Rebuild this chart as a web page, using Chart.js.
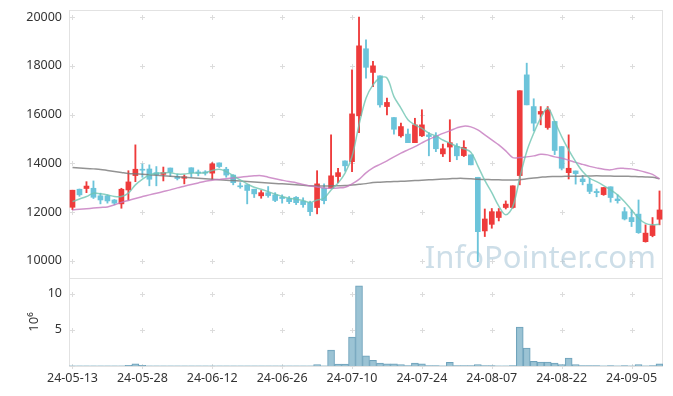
<!DOCTYPE html>
<html>
<head>
<meta charset="utf-8">
<script src="https://cdn.jsdelivr.net/npm/chart.js@4.4.1/dist/chart.umd.min.js"></script>
<style>
  html, body { margin: 0; padding: 0; background: #fff; }
</style>
</head>
<body>
<canvas id="priceChart" width="673" height="396"></canvas>
<script>
var dates = ['24-05-13','24-05-14','24-05-16','24-05-17','24-05-20','24-05-21','24-05-22','24-05-23','24-05-24','24-05-27','24-05-28','24-05-29','24-05-30','24-05-31',
  '24-06-03','24-06-04','24-06-05','24-06-07','24-06-10','24-06-11','24-06-12','24-06-13','24-06-14','24-06-17','24-06-18','24-06-19','24-06-20','24-06-21','24-06-24','24-06-25','24-06-26','24-06-27','24-06-28',
  '24-07-01','24-07-02','24-07-03','24-07-04','24-07-05','24-07-08','24-07-09','24-07-10','24-07-11','24-07-12','24-07-15','24-07-16','24-07-17','24-07-18','24-07-19','24-07-22','24-07-23','24-07-24','24-07-25','24-07-26','24-07-29','24-07-30','24-07-31',
  '24-08-01','24-08-02','24-08-05','24-08-06','24-08-07','24-08-08','24-08-09','24-08-12','24-08-13','24-08-14','24-08-16','24-08-19','24-08-20','24-08-21','24-08-22','24-08-23','24-08-26','24-08-27','24-08-28','24-08-29','24-08-30',
  '24-09-02','24-09-03','24-09-04','24-09-05','24-09-06','24-09-09','24-09-10','24-09-11'];

var opens = [12200,12940,12970,12980,12670,12670,12500,12340,12910,13500,13760,13770,13620,13550,13810,13450,13390,13820,13650,13650,
  13600,14020,13760,13520,13080,13120,12940,12670,12800,12710,12610,12560,12610,12450,12390,12190,12980,12980,13460,14100,
  14070,15950,18700,17730,17590,16330,15880,15130,15200,14850,15130,15170,15130,14390,14670,14700,14320,14350,13430,11230,
  11500,11780,12190,12190,13500,17630,16330,16020,15470,15720,14690,13620,13690,13360,13150,12850,12720,13040,12540,12020,
  11780,11920,10790,11040,11710];
var highs = [12900,12950,13250,13280,12780,12710,12520,12980,13700,14760,13980,13940,13870,13850,13810,13560,13530,13820,13730,13700,
  14030,14020,13840,13540,13210,13120,12940,12890,13050,12800,12710,12640,12640,12590,12450,13700,13160,15170,13800,14100,
  17840,20000,19070,18180,17590,16680,15880,15650,15410,15850,16200,15260,15260,14790,15790,14810,14930,14350,13430,12130,
  12150,12150,12460,13080,16980,18110,16650,16330,16330,15720,14690,15170,13690,13500,13390,12950,13010,13040,12710,12190,
  12090,12500,11480,11780,12870];
var lows = [12100,12650,12800,12560,12340,12370,12300,12160,12500,13250,13430,13080,13080,13280,13460,13320,13160,13450,13490,13520,
  13350,13830,13430,13120,12980,12340,12600,12570,12610,12430,12370,12350,12310,12200,11860,11930,12340,12980,13210,13680,
  13660,15260,17490,17150,16310,15990,15200,15070,14850,14850,15100,14310,14480,14280,14070,14150,14280,13940,9970,11000,
  11340,11640,12130,12160,13120,16400,15330,15580,15400,14360,13730,13360,13150,13120,12760,12630,12690,12410,12370,11680,
  11410,11130,10770,10990,11480];
var closes = [12900,12710,13070,12610,12500,12460,12370,12940,13240,13760,13720,13350,13540,13620,13640,13380,13450,13620,13600,13600,
  13980,13870,13520,13210,13040,12890,12750,12800,12680,12480,12560,12430,12390,12310,12020,13160,12470,13490,13620,13900,
  16030,18820,17940,18000,16400,16500,15400,15510,14850,15580,15580,15100,14600,14600,14850,14310,14660,13940,11200,11720,
  12020,12020,12330,13080,16980,16400,15650,16130,16190,14530,13800,13800,13580,13250,12850,12800,13010,12600,12470,11720,
  11610,11160,11140,11450,12090];

// moving averages
var ma5 = [12433,12540,12640,12778,12750,12708,12640,12640,12778,13120,13350,13530,13600,13610,13620,13560,13560,13600,13600,13620,
  13705,13760,13665,13490,13320,13160,13020,12940,12843,12735,12640,12570,12530,12475,12390,12500,12570,12913,13190,13600,
  14280,15580,16675,17220,17500,17500,16740,16270,15790,15580,15440,15240,15130,14960,14830,14700,14600,14460,13900,13300,
  12800,12250,11890,12230,13400,14490,15240,15860,16270,15720,15100,14550,14070,13665,13390,13250,13090,12913,12710,12430,
  12090,11750,11540,11480,11500];
var ma20 = [12093,12118,12142,12166,12191,12216,12298,12400,12482,12564,12638,12708,12774,12843,12913,12995,13065,13135,13200,13266,
  13311,13344,13373,13405,13434,13463,13488,13496,13434,13373,13311,13254,13209,13139,13077,13036,12995,12983,12995,13024,
  13159,13344,13611,13816,13960,14103,14267,14419,14554,14690,14842,14985,15108,15231,15334,15457,15527,15498,15375,15170,
  14965,14760,14513,14238,14238,14267,14308,14370,14349,14267,14214,14131,14041,13959,13877,13816,13762,13734,13795,13795,
  13775,13713,13640,13549,13364];
var ma60 = [13836,13815,13795,13775,13754,13713,13672,13630,13590,13570,13550,13530,13510,13490,13470,13450,13430,13410,13390,13370,
  13350,13330,13310,13295,13280,13260,13240,13220,13200,13180,13160,13140,13120,13100,13080,13075,13075,13080,13085,13090,
  13115,13140,13170,13215,13230,13245,13255,13265,13280,13295,13310,13325,13340,13355,13370,13385,13385,13370,13350,13340,
  13330,13325,13323,13323,13330,13370,13400,13430,13455,13460,13465,13470,13475,13480,13485,13488,13485,13480,13475,13470,
  13465,13455,13445,13430,13370];

// volume in millions of shares
var volumes = [0.02,0.02,0.02,0.02,0.02,0.02,0.02,0.02,0.08,0.3,0.08,0.02,0.02,0.02,0.02,0.02,0.02,0.02,0.02,0.02,
  0.02,0.02,0.02,0.02,0.02,0.02,0.02,0.02,0.02,0.02,0.02,0.02,0.02,0.02,0.02,0.2,0.03,2.2,0.25,0.25,
  4.0,11.1,1.4,0.8,0.4,0.3,0.3,0.2,0.05,0.4,0.3,0.05,0.05,0.02,0.5,0.05,0.05,0.05,0.2,0.05,
  0.05,0.02,0.02,0.05,5.4,2.5,0.65,0.55,0.55,0.4,0.2,1.1,0.2,0.07,0.07,0.07,0.02,0.07,0.02,0.07,
  0.02,0.2,0.02,0.07,0.3];

var priceTicks = [10000, 12000, 14000, 16000, 18000, 20000];
var volumeTicks = [0, 5, 10];

var upColor = '#ee3b3b';
var downColor = '#6cc4da';
var tickFont = { family: 'Noto Sans', size: 12.5 };

var candleColors = closes.map(function(c, i) { return c >= opens[i] ? upColor : downColor; });
var wicks = dates.map(function(d, i) { return [lows[i], highs[i]]; });
var bodies = dates.map(function(d, i) { return [opens[i], closes[i]]; });

// light frame, panel separator and small "+" marks at grid crossings
var framePlugin = {
  id: 'frame',
  beforeDatasetsDraw: function(chart) {
    var ctx = chart.ctx, a = chart.chartArea;
    var xs = chart.scales.x, ys = chart.scales.y, yv = chart.scales.yv;
    ctx.save();
    ctx.strokeStyle = '#e2e2e2';
    ctx.lineWidth = 1;
    ctx.strokeRect(a.left + 0.5, a.top + 0.5, a.right - a.left - 1, a.bottom - a.top);
    ctx.beginPath();
    ctx.moveTo(a.left, Math.round(ys.bottom) + 0.5);
    ctx.lineTo(a.right, Math.round(ys.bottom) + 0.5);
    ctx.stroke();

    ctx.strokeStyle = '#dcdcdc';
    var yPix = [];
    ys.ticks.forEach(function(t) { yPix.push(ys.getPixelForValue(t.value)); });
    yv.ticks.forEach(function(t) { yPix.push(yv.getPixelForValue(t.value)); });
    for (var i = 0; i < dates.length; i += 10) {
      var px = Math.round(xs.getPixelForValue(i)) + 0.5;
      yPix.forEach(function(py) {
        py = Math.round(py) + 0.5;
        ctx.beginPath();
        ctx.moveTo(px - 2.5, py); ctx.lineTo(px + 2.5, py);
        ctx.moveTo(px, py - 2.5); ctx.lineTo(px, py + 2.5);
        ctx.stroke();
      });
    }

    ctx.font = '31px "Noto Sans"';
    ctx.fillStyle = 'rgba(172,200,216,0.6)';
    ctx.textAlign = 'right';
    ctx.textBaseline = 'alphabetic';
    ctx.fillText('InfoPointer.com', a.right - 7, ys.bottom - 10);
    ctx.restore();
  }
};

function noPad(s) {
  s.paddingTop = 0; s.paddingBottom = 0; s.paddingLeft = 0; s.paddingRight = 0;
}

var ctx = document.getElementById('priceChart').getContext('2d');
var priceChart = new Chart(ctx, {
  data: {
    labels: dates,
    datasets: [
      { type: 'line', label: 'MA5', data: ma5, yAxisID: 'y', borderColor: 'rgba(110,196,178,0.8)', borderWidth: 1.5, pointRadius: 0, tension: 0.35, order: 0 },
      { type: 'line', label: 'MA20', data: ma20, yAxisID: 'y', borderColor: 'rgba(196,120,190,0.8)', borderWidth: 1.5, pointRadius: 0, tension: 0.35, order: 0 },
      { type: 'line', label: 'MA60', data: ma60, yAxisID: 'y', borderColor: 'rgba(120,120,120,0.8)', borderWidth: 1.5, pointRadius: 0, tension: 0.35, order: 0 },
      { type: 'bar', label: 'wick', data: wicks, yAxisID: 'y', backgroundColor: candleColors, barThickness: 1.2, grouped: false, order: 2 },
      { type: 'bar', label: 'body', data: bodies, yAxisID: 'y', backgroundColor: candleColors, barThickness: 5, minBarLength: 1, grouped: false, order: 1 },
      { type: 'bar', label: 'Volume', data: volumes, yAxisID: 'yv', backgroundColor: 'rgba(150,192,210,0.95)', borderColor: '#6ea2bb', borderWidth: 1, borderSkipped: 'bottom', barPercentage: 1, categoryPercentage: 1, grouped: false, order: 3 }
    ]
  },
  options: {
    responsive: false,
    animation: false,
    layout: { padding: { top: 10, right: 10, left: 0, bottom: 0 } },
    plugins: { legend: { display: false }, tooltip: { enabled: false } },
    scales: {
      x: {
        type: 'category',
        offset: true,
        grid: { display: false, drawTicks: false },
        border: { display: false },
        ticks: {
          autoSkip: false, maxRotation: 0, color: '#333', font: tickFont, padding: 5,
          callback: function(v, i) { return i % 10 === 0 ? this.getLabelForValue(v) : ''; }
        },
        afterFit: function(s) { s.height = 30; noPad(s); }
      },
      y: {
        stack: 'panels', stackWeight: 268, weight: 2,
        min: 9300, max: 20290,
        grid: { display: false, drawTicks: false },
        border: { display: false },
        ticks: { color: '#333', font: tickFont, padding: 7, callback: function(v) { return String(v); } },
        afterBuildTicks: function(s) { s.ticks = priceTicks.map(function(v) { return { value: v }; }); },
        afterFit: function(s) { s.width = 69; noPad(s); }
      },
      yv: {
        stack: 'panels', stackWeight: 88, weight: 1,
        min: 0, max: 12.2,
        grid: { display: false, drawTicks: false },
        border: { display: false },
        ticks: { color: '#333', font: tickFont, padding: 7,
          callback: function(v) { return v === 0 ? '' : String(v); } },
        afterBuildTicks: function(s) { s.ticks = volumeTicks.map(function(v) { return { value: v }; }); },
        title: { display: true, text: '10⁶', color: '#333', font: { family: 'Noto Sans', size: 13 }, padding: { top: 26, bottom: 0 } },
        afterFit: function(s) { s.width = 69; noPad(s); }
      }
    }
  },
  plugins: [framePlugin]
});
</script>
</body>
</html>
